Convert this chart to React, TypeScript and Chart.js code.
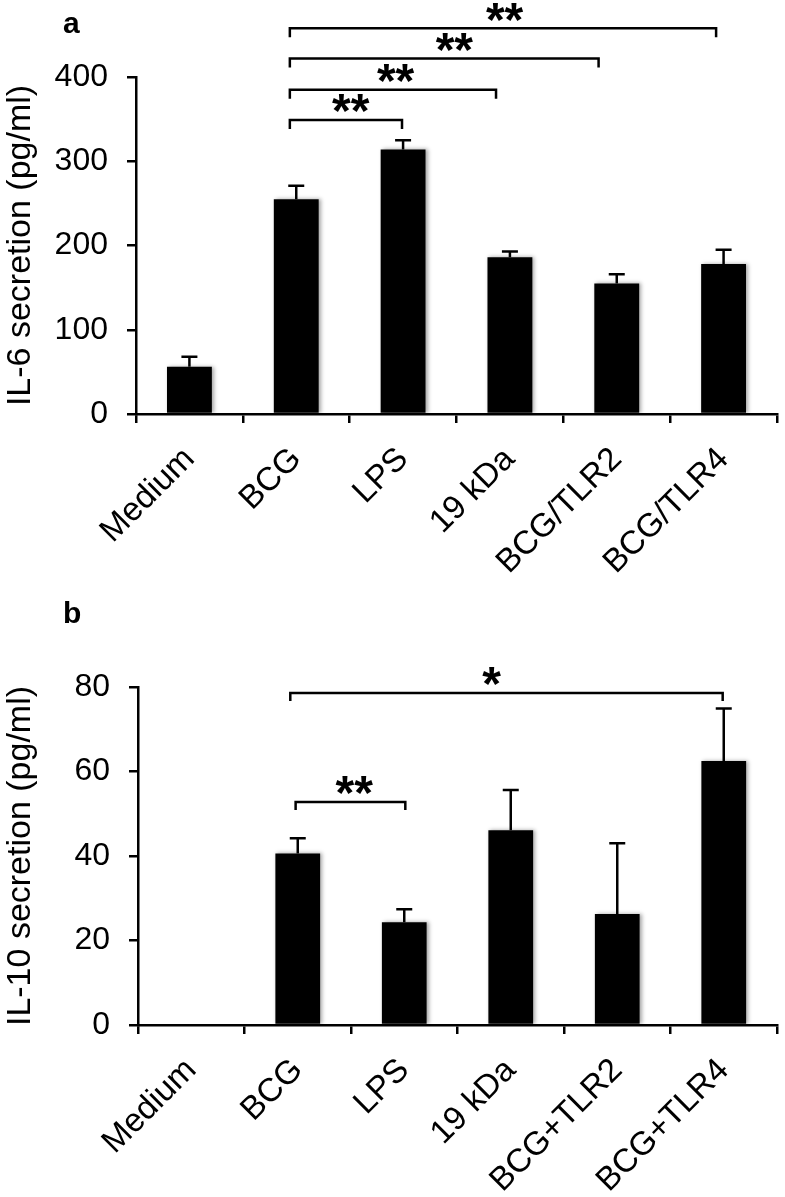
import React, { useEffect, useRef } from 'react';
import { Chart, registerables } from 'chart.js';

Chart.register(...registerables);

const FONT = "'Liberation Sans', Arial, Helvetica, sans-serif";

// ---------- Panel a: IL-6 ----------
const categoriesA = ['Medium', 'BCG', 'LPS', '19 kDa', 'BCG/TLR2', 'BCG/TLR4'];
const il6Mean = [56, 255, 314, 186, 155, 178];
const il6Err = [12, 16, 11, 7, 11, 17];
const ticksA = [0, 100, 200, 300, 400];

// significance brackets (category positions, value level)
const sigAFrom = [0.94, 0.94, 0.94, 0.94];
const sigATo = [1.99, 2.87, 3.83, 4.93];
const sigALevel = [349, 385, 422, 458];
const sigAStarX = [1.51, 1.93, 2.48, 2.95];
const sigAText = ['**', '**', '**', '**'];

// ---------- Panel b: IL-10 ----------
const categoriesB = ['Medium', 'BCG', 'LPS', '19 kDa', 'BCG+TLR2', 'BCG+TLR4'];
const il10Mean = [0, 40.6, 24.3, 46.1, 26.3, 62.5];
const il10Err = [0, 3.6, 3.1, 9.5, 16.7, 12.4];
const ticksB = [0, 20, 40, 60, 80];

const sigBFrom = [0.98, 0.93];
const sigBTo = [2.01, 4.99];
const sigBLevel = [52.8, 78.6];
const sigBStarX = [1.53, 2.82];
const sigBText = ['**', '*'];

type Panel = {
  letter: string;
  labels: string[];
  means: number[];
  errs: number[];
  ticks: number[];
  title: string;
  from: number[];
  to: number[];
  level: number[];
  starX: number[];
  text: string[];
  padTop: number;
  axisWidth: number;
  xHeight: number;
  letterBaseline: number;
  legDrop: number;
};

const panelA: Panel = {
  letter: 'a',
  labels: categoriesA,
  means: il6Mean,
  errs: il6Err,
  ticks: ticksA,
  title: 'IL-6 secretion (pg/ml)',
  from: sigAFrom,
  to: sigATo,
  level: sigALevel,
  starX: sigAStarX,
  text: sigAText,
  padTop: 77,
  axisWidth: 136,
  xHeight: 186,
  letterBaseline: 33,
  legDrop: 9,
};

const panelB: Panel = {
  letter: 'b',
  labels: categoriesB,
  means: il10Mean,
  errs: il10Err,
  ticks: ticksB,
  title: 'IL-10 secretion (pg/ml)',
  from: sigBFrom,
  to: sigBTo,
  level: sigBLevel,
  starX: sigBStarX,
  text: sigBText,
  padTop: 87,
  axisWidth: 138,
  xHeight: 172,
  letterBaseline: 23,
  legDrop: 8,
};

function catPixel(chart: any, v: number) {
  const xs = chart.scales.x;
  const p0 = xs.getPixelForValue(0);
  const p1 = xs.getPixelForValue(1);
  return p0 + (p1 - p0) * v;
}

function buildChart(canvas: HTMLCanvasElement, p: Panel) {
  const shadowPlugin = {
    id: 'barShadow',
    beforeDatasetsDraw(chart: any) {
      const ctx = chart.ctx;
      ctx.save();
      ctx.shadowColor = 'rgba(0,0,0,0.35)';
      ctx.shadowBlur = 4;
      ctx.shadowOffsetX = 2;
      ctx.shadowOffsetY = 0;
    },
    afterDatasetsDraw(chart: any) {
      chart.ctx.restore();
    },
  };

  const errorPlugin = {
    id: 'errorBars',
    afterDatasetsDraw(chart: any) {
      const ctx = chart.ctx;
      const ys = chart.scales.y;
      const meta = chart.getDatasetMeta(0);
      ctx.save();
      ctx.strokeStyle = '#000';
      ctx.lineWidth = 2.5;
      meta.data.forEach((bar: any, i: number) => {
        const e = p.errs[i];
        if (!e) return;
        const x = bar.x;
        const y0 = ys.getPixelForValue(p.means[i]);
        const y1 = ys.getPixelForValue(p.means[i] + e);
        ctx.beginPath();
        ctx.moveTo(x, y0);
        ctx.lineTo(x, y1);
        ctx.moveTo(x - 8, y1);
        ctx.lineTo(x + 8, y1);
        ctx.stroke();
      });
      ctx.restore();
    },
  };

  const sigPlugin = {
    id: 'significance',
    afterDraw(chart: any) {
      const ctx = chart.ctx;
      const ys = chart.scales.y;
      ctx.save();
      ctx.strokeStyle = '#000';
      ctx.fillStyle = '#000';
      ctx.lineWidth = 2.5;
      ctx.lineCap = 'butt';
      p.from.forEach((f, i) => {
        const x0 = catPixel(chart, f);
        const x1 = catPixel(chart, p.to[i]);
        const y = ys.getPixelForValue(p.level[i]);
        ctx.beginPath();
        ctx.moveTo(x0, y + p.legDrop);
        ctx.lineTo(x0, y);
        ctx.lineTo(x1, y);
        ctx.lineTo(x1, y + p.legDrop);
        ctx.stroke();
        ctx.font = `bold 48px ${FONT}`;
        ctx.textAlign = 'center';
        ctx.textBaseline = 'alphabetic';
        const m = ctx.measureText(p.text[i]);
        const asc = m.actualBoundingBoxAscent;
        const desc = m.actualBoundingBoxDescent;
        const cy = y - 16.5;
        const base = cy + (asc - desc) / 2;
        ctx.fillText(p.text[i], catPixel(chart, p.starX[i]), base);
      });
      // panel letter
      ctx.font = `bold 30px ${FONT}`;
      ctx.textAlign = 'left';
      ctx.textBaseline = 'alphabetic';
      ctx.fillText(p.letter, 63, p.letterBaseline);
      ctx.restore();
    },
  };

  const yMax = p.ticks[p.ticks.length - 1];
  const step = p.ticks[1] - p.ticks[0];

  return new Chart(canvas, {
    type: 'bar',
    data: {
      labels: p.labels,
      datasets: [
        {
          data: p.means,
          backgroundColor: '#000',
          borderWidth: 0,
          barPercentage: 0.42,
          categoryPercentage: 1,
        },
      ],
    },
    options: {
      responsive: false,
      animation: false,
      devicePixelRatio: 1,
      layout: { padding: { top: p.padTop, right: 8, left: 0, bottom: 0 } },
      plugins: {
        legend: { display: false },
        title: { display: false },
        tooltip: { enabled: false },
      },
      scales: {
        x: {
          offset: true,
          grid: {
            offset: true,
            drawOnChartArea: false,
            drawTicks: true,
            tickLength: 9,
            color: '#000',
            lineWidth: 2.5,
          },
          border: { display: true, color: '#000', width: 2.5 },
          ticks: {
            autoSkip: false,
            maxRotation: 45,
            minRotation: 45,
            padding: 17,
            color: '#000',
            font: { family: FONT, size: 33 },
          },
          afterFit: (scale: any) => {
            scale.height = p.xHeight;
          },
        },
        y: {
          min: 0,
          max: yMax,
          grid: {
            drawOnChartArea: false,
            drawTicks: true,
            tickLength: 9,
            color: '#000',
            lineWidth: 2.5,
          },
          border: { display: true, color: '#000', width: 2.5 },
          ticks: {
            stepSize: step,
            padding: 19,
            color: '#000',
            font: { family: FONT, size: 32 },
          },
          title: {
            display: true,
            text: p.title,
            color: '#000',
            padding: { top: 0, bottom: 0 },
            font: { family: FONT, size: 34, weight: 'normal' },
          },
          afterFit: (scale: any) => {
            scale.width = p.axisWidth;
          },
        },
      },
    },
    plugins: [shadowPlugin, errorPlugin, sigPlugin],
  } as any);
}

function PanelChart({ panel, height, top }: { panel: Panel; height: number; top: number }) {
  const ref = useRef<HTMLCanvasElement | null>(null);
  useEffect(() => {
    if (!ref.current) return;
    const chart = buildChart(ref.current, panel);
    return () => chart.destroy();
  }, [panel]);
  return (
    <canvas
      ref={ref}
      width={785}
      height={height}
      style={{ position: 'absolute', left: 0, top, width: 785, height, display: 'block' }}
    />
  );
}

export default function App() {
  useEffect(() => {
    document.body.style.margin = '0';
    document.body.style.background = '#fff';
  }, []);
  return (
    <div style={{ position: 'relative', width: 785, height: 1197, background: '#fff', overflow: 'hidden' }}>
      <PanelChart panel={panelA} height={600} top={0} />
      <PanelChart panel={panelB} height={597} top={600} />
    </div>
  );
}
